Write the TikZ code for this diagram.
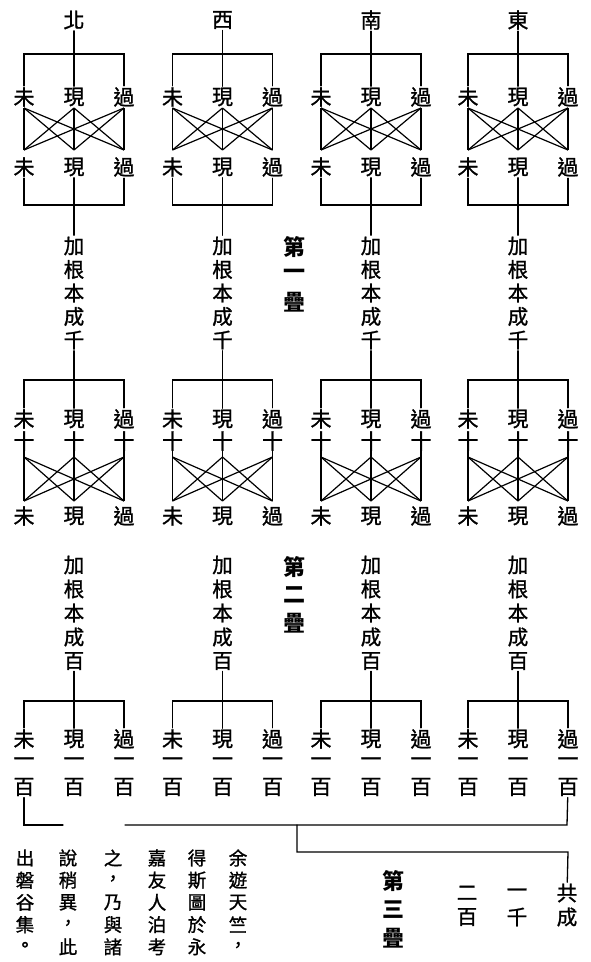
\documentclass[tikz,border=0pt]{standalone}
\usepackage{fontspec}
\newfontfamily\cjk{Noto Sans CJK TC}[FakeBold=1.2]
\newfontfamily\cjkb{Noto Sans CJK TC}
\begin{document}
\begin{tikzpicture}[x=1pt,y=-1pt,
  ch/.style={inner sep=0pt, outer sep=1.5pt, font=\cjk\fontsize{21}{21}\selectfont},
  vt/.style={inner sep=0pt, outer sep=1.5pt, font=\cjk\fontsize{20.5}{20.5}\selectfont},
  sm/.style={inner sep=0pt, font=\cjk\fontsize{18.5}{18.5}\selectfont},
  lbl/.style={inner sep=0pt, font=\cjkb\bfseries\fontsize{22}{22}\selectfont},
  ln/.style={line width=1.3pt, line cap=round},
  xl/.style={line width=1.2pt}]
\useasboundingbox (0,0) rectangle (590,962);

\foreach \c/\d/\n in {74/北/N, 222.5/西/W, 371/南/S, 518/東/E} {
  \pgfmathsetmacro\L{\c-50}
  \pgfmathsetmacro\R{\c+50}
  % ---------- section 1
  \node[ch] (d\n) at (\c,20) {\d};
  \coordinate (sa\n L) at (\L,54);
  \coordinate (sa\n R) at (\R,54);
  \node[ch] (a\n L) at (\L,97) {未};
  \node[ch] (a\n M) at (\c,97) {現};
  \node[ch] (a\n R) at (\R,97) {過};
  \coordinate (x\n L) at (\L,108);
  \coordinate (x\n M) at (\c,108);
  \coordinate (x\n R) at (\R,108);
  \coordinate (y\n L) at (\L,150);
  \coordinate (y\n M) at (\c,150);
  \coordinate (y\n R) at (\R,150);
  \node[ch] (b\n L) at (\L,167) {未};
  \node[ch] (b\n M) at (\c,167) {現};
  \node[ch] (b\n R) at (\R,167) {過};
  \coordinate (sb\n L) at (\L,205);
  \coordinate (sb\n M) at (\c,205);
  \coordinate (sb\n R) at (\R,205);
  \draw[ln] (d\n) -- (a\n M);
  \draw[ln] (a\n L) -- (sa\n L) -- (sa\n R) -- (a\n R);
  \foreach \p in {L,M,R} {\foreach \q in {L,M,R} {\draw[xl] (x\n\p) -- (y\n\q);}}
  \draw[ln] (b\n L) -- (sb\n L) -- (sb\n R) -- (b\n R);
  \draw[ln] (b\n M) -- (sb\n M);
  % ---------- 加根本成千
  \foreach \t [count=\i] in {加,根,本,成,千} {
    \node[vt] (k\n\i) at (\c,{246+23.5*(\i-1)}) {\t};
  }
  \draw[ln] (sb\n M) -- (k\n1);
  % ---------- section 2
  \coordinate (sc\n L) at (\L,380);
  \coordinate (sc\n R) at (\R,380);
  \node[ch] (p\n L) at (\L,419) {未};
  \node[ch] (p\n M) at (\c,419) {現};
  \node[ch] (p\n R) at (\R,419) {過};
  \node[ch] (t\n L) at (\L,441) {十};
  \node[ch] (t\n M) at (\c,441) {十};
  \node[ch] (t\n R) at (\R,441) {十};
  \coordinate (u\n L) at (\L,457);
  \coordinate (u\n M) at (\c,457);
  \coordinate (u\n R) at (\R,457);
  \coordinate (v\n L) at (\L,501);
  \coordinate (v\n M) at (\c,501);
  \coordinate (v\n R) at (\R,501);
  \node[ch] (q\n L) at (\L,516) {未};
  \node[ch] (q\n M) at (\c,516) {現};
  \node[ch] (q\n R) at (\R,516) {過};
  \draw[ln] (k\n5) -- (p\n M);
  \draw[ln] (p\n L) -- (sc\n L) -- (sc\n R) -- (p\n R);
  \foreach \p in {L,M,R} {
    \draw[ln] (t\n\p.center) -- (u\n\p);
    \foreach \q in {L,M,R} {\draw[xl] (u\n\p) -- (v\n\q);}
  }
  % ---------- 加根本成百
  \foreach \t [count=\i] in {加,根,本,成,百} {
    \node[vt] (h\n\i) at (\c,{565+24*(\i-1)}) {\t};
  }
  % ---------- section 3
  \coordinate (sd\n L) at (\L,701);
  \coordinate (sd\n R) at (\R,701);
  \node[ch] (r\n L) at (\L,739) {未};
  \node[ch] (r\n M) at (\c,739) {現};
  \node[ch] (r\n R) at (\R,739) {過};
  \node[ch] (o\n L) at (\L,762) {一};
  \node[ch] (o\n M) at (\c,762) {一};
  \node[ch] (o\n R) at (\R,762) {一};
  \node[ch] (z\n L) at (\L,787) {百};
  \node[ch] (z\n M) at (\c,787) {百};
  \node[ch] (z\n R) at (\R,787) {百};
  \draw[ln] (h\n5) -- (r\n M);
  \draw[ln] (r\n L) -- (sd\n L) -- (sd\n R) -- (r\n R);
}

% ---------- labels 第一疊 / 第二疊 / 第三疊
\foreach \t [count=\i] in {第,一,疊} {
  \node[lbl] (l1\i) at (294,{247+27.5*(\i-1)}) {\t};
}
\foreach \t [count=\i] in {第,二,疊} {
  \node[lbl] (l2\i) at (294,{567+28*(\i-1)}) {\t};
}
\foreach \t [count=\i] in {第,三,疊} {
  \node[lbl] (l3\i) at (393,{881+28.5*(\i-1)}) {\t};
}

% ---------- final bracket
\coordinate (f1) at (24,825);
\coordinate (f2) at (63,825);
\coordinate (f3) at (125,825);
\coordinate (f4) at (567,825);
\coordinate (f5) at (297,825);
\coordinate (f6) at (297,852);
\coordinate (f7) at (568,852);
\node[vt] (g1) at (567,893) {共};
\node[vt] (g2) at (567,917) {成};
\node[vt] (g3) at (517,893) {一};
\node[vt] (g4) at (517,917) {千};
\node[vt] (g5) at (467,893) {二};
\node[vt] (g6) at (467,917) {百};
\draw[ln] (zNL) -- (f1) -- (f2);
\draw[ln] (f3) -- (f4) -- (zER);
\draw[ln] (f5) -- (f6) -- (f7) -- (g1);

% ---------- note text
\foreach \x/\s [count=\j] in {238/{余,遊,天,竺,，}, 197/{得,斯,圖,於,永}, 157/{嘉,友,人,泊,考}, 113/{之,，,乃,與,諸}, 68/{說,稍,異,，,此}, 25/{出,磐,谷,集,。}} {
  \foreach \t [count=\i] in \s {
    \node[sm] (n\j-\i) at (\x,{858+22.2*(\i-1)}) {\t};
  }
}
\end{tikzpicture}
\end{document}
